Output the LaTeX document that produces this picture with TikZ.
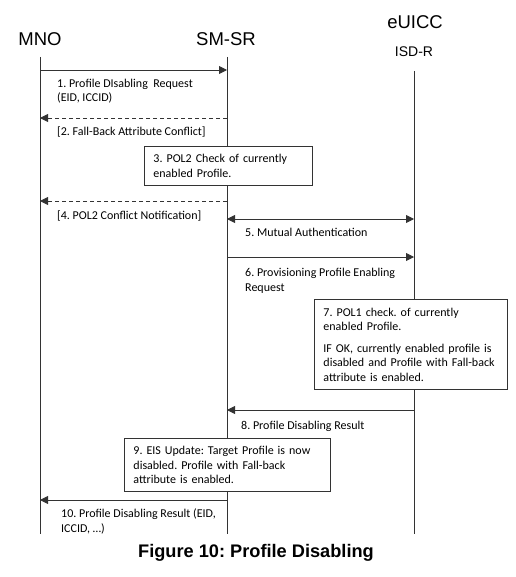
\documentclass[tikz,border=0pt]{standalone}
\usepackage{fontspec}
\setmainfont{Carlito}
\newfontfamily\hdrfont{Liberation Sans}
\usetikzlibrary{arrows.meta}
\frenchspacing
\begin{document}
\frenchspacing
\begin{tikzpicture}[x=1pt,y=-1pt,
  lifeline/.style={line width=0.9pt,draw=black!80},
  msg/.style={line width=0.9pt,draw=black!80,-{Triangle[length=8pt,width=8pt]}},
  dmsg/.style={msg,dash pattern=on 4pt off 3pt},
  bimsg/.style={line width=0.9pt,draw=black!80,{Triangle[length=8pt,width=8pt]}-{Triangle[length=8pt,width=8pt]}},
  hdr/.style={font=\hdrfont\fontsize{18.5}{20}\selectfont,inner sep=0pt},
  sub/.style={font=\hdrfont\fontsize{14}{16}\selectfont,inner sep=0pt},
  lbl/.style={font=\fontsize{12}{14.5}\selectfont,inner sep=0pt,align=left,anchor=base west},
  stepbox/.style={draw=black!80,line width=0.9pt,fill=white,anchor=north west,inner xsep=9pt,inner ysep=0pt,align=left,font=\fontsize{12}{14.5}\selectfont},
  figcap/.style={font=\hdrfont\bfseries\fontsize{18.2}{20}\selectfont,inner sep=0pt}
]
\useasboundingbox (0,0) rectangle (515,577);
% headers
\node[hdr] (mno) at (40,39) {MNO};
\node[hdr] (smsr) at (226,39) {SM-SR};
\node[hdr] (euicc) at (415,22) {eUICC};
\node[sub] (isdr) at (414,52) {ISD-R};
% lifelines
\coordinate (mnoT) at (40,57);   \coordinate (mnoB) at (40,534);
\coordinate (smT) at (227,57);   \coordinate (smB) at (227,534);
\coordinate (isT) at (414,71);   \coordinate (isB) at (414,534);
\draw[lifeline] (mnoT) -- (mnoB);
\draw[lifeline] (smT) -- (smB);
\draw[lifeline] (isT) -- (isB);
% message end points
\coordinate (m1a) at (40,70);  \coordinate (m1b) at (227,70);
\coordinate (m2a) at (227,118); \coordinate (m2b) at (40,118);
\coordinate (m4a) at (227,201); \coordinate (m4b) at (40,201);
\coordinate (m5a) at (227,219); \coordinate (m5b) at (414,219);
\coordinate (m6a) at (227,257); \coordinate (m6b) at (414,257);
\coordinate (m8a) at (414,410); \coordinate (m8b) at (227,410);
\coordinate (m10a) at (227,500); \coordinate (m10b) at (40,500);
% messages
\draw[msg] (m1a) -- (m1b);
\node[lbl] (l1) at (57,102) {1. Profile DIsabling\ \ Request\\(EID, ICCID)};
\draw[dmsg] (m2a) -- (m2b);
\node[lbl] (l2) at (57,136) {[2. Fall-Back Attribute Conflict]};
\node[stepbox,text width=150pt,minimum height=39pt] (b3) at (144,146) {3. POL2 Check of currently\\enabled Profile.};
\draw[dmsg] (m4a) -- (m4b);
\node[lbl] (l4) at (57,219) {[4. POL2 Conflict Notification]};
\draw[bimsg] (m5a) -- (m5b);
\node[lbl] (l5) at (245,236) {5. Mutual Authentication};
\draw[msg] (m6a) -- (m6b);
\node[lbl] (l6) at (245,291) {6. Provisioning Profile Enabling\\Request};
\node[stepbox,text width=175pt,minimum height=90pt] (b7) at (314,299) {7. POL1 check. of currently\\enabled Profile.\\[7pt]IF OK, currently enabled profile is\\disabled and Profile with Fall-back\\attribute is enabled.};
\draw[msg] (m8a) -- (m8b);
\node[lbl] (l8) at (241,429) {8. Profile Disabling Result};
\node[stepbox,text width=188pt,minimum height=53pt] (b9) at (124,438) {9. EIS Update: Target Profile is now\\disabled. Profile with Fall-back\\attribute is enabled.};
\draw[msg] (m10a) -- (m10b);
\node[lbl] (l10) at (61,532) {10. Profile Disabling Result (EID,\\ICCID, …)};
% caption
\node[figcap] (caption) at (256,553) {Figure 10: Profile Disabling};
\end{tikzpicture}
\end{document}
